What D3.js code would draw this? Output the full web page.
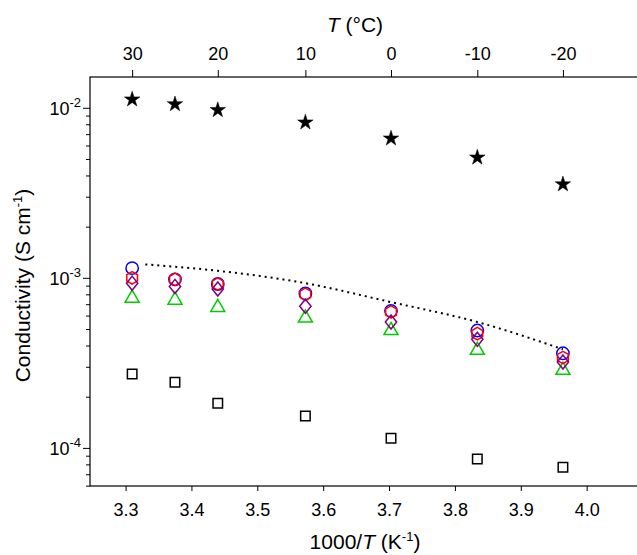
<!DOCTYPE html>
<html>
<head>
  <meta charset="UTF-8">
  <script src="https://d3js.org/d3.v7.min.js"></script>
  <style>
    body { margin: 0; background: #fff; font-family: "Liberation Sans", Arial, sans-serif; }
    .axis text { font-size: 18px; fill: #000; font-family: "Liberation Sans", Arial, sans-serif; }
    .axis path, .axis line { stroke: #000; }
  </style>
</head>
<body>
  <svg id="chart" width="637" height="555"></svg>
  <script>
    const xVals = [3.31, 3.375, 3.44, 3.573, 3.703, 3.834, 3.964];
    const topTickLabels = ["30", "", "20", "10", "0", "-10", "-20"];
    const stars = [1.12e-2, 1.05e-2, 9.7e-3, 8.2e-3, 6.6e-3, 5.1e-3, 3.55e-3];
    const circles = [1.14e-3, 0.98e-3, 0.92e-3, 0.81e-3, 0.64e-3, 0.49e-3, 0.36e-3];
    const hexagons = [1.0e-3, 0.98e-3, 0.92e-3, 0.80e-3, 0.63e-3, 0.47e-3, 0.34e-3];
    const diamonds = [0.93e-3, 0.89e-3, 0.86e-3, 0.68e-3, 0.55e-3, 0.435e-3, 0.32e-3];
    const triangles = [0.76e-3, 0.74e-3, 0.67e-3, 0.58e-3, 0.49e-3, 0.375e-3, 0.286e-3];
    const squares = [2.72e-4, 2.43e-4, 1.83e-4, 1.54e-4, 1.14e-4, 0.86e-4, 0.77e-4];
    const fitX = [3.33, 3.44, 3.573, 3.703, 3.834, 3.964];
    const fitY = [1.2e-3, 1.1e-3, 0.93e-3, 0.72e-3, 0.55e-3, 0.38e-3];

    const svg = d3.select("#chart");
    const L = 90, R = 640, T = 77, B = 486;
    const x = d3.scaleLinear().domain([3.246, 4.081]).range([L, R]);
    const y = d3.scaleLog().domain([Math.pow(10, -4.224), Math.pow(10, -1.819)]).range([B, T]);

    // frame
    svg.append("rect").attr("x", L).attr("y", T).attr("width", R - L).attr("height", B - T)
      .attr("fill", "none").attr("stroke", "#000").attr("stroke-width", 1.2);

    // bottom axis
    const gx = svg.append("g").attr("class", "axis").attr("transform", `translate(0,${B})`)
      .call(d3.axisBottom(x).tickValues(d3.range(3.3, 4.01, 0.1)).tickFormat(d3.format(".1f")).tickSize(5).tickSizeOuter(0));
    gx.select(".domain").remove();
    gx.selectAll("text").attr("dy", "1.2em");

    // top axis
    const gt = svg.append("g").attr("class", "axis").attr("transform", `translate(0,${T})`)
      .call(d3.axisTop(x).tickValues(xVals.filter((d, i) => topTickLabels[i] !== ""))
        .tickFormat(d => topTickLabels[xVals.indexOf(d)]).tickSize(7).tickSizeOuter(0));
    gt.select(".domain").remove();
    gt.selectAll("text").attr("dy", "-0.4em");

    // left axis, major and minor
    const minor = [];
    for (let e = -5; e <= -2; e++) for (let m = 2; m <= 9; m++) {
      const v = m * Math.pow(10, e);
      if (v > y.domain()[0] && v < y.domain()[1]) minor.push(v);
    }
    const gm = svg.append("g").attr("class", "axis").attr("transform", `translate(${L},0)`)
      .call(d3.axisLeft(y).tickValues(minor).tickFormat("").tickSize(4).tickSizeOuter(0));
    gm.select(".domain").remove();
    const gy = svg.append("g").attr("class", "axis").attr("transform", `translate(${L},0)`)
      .call(d3.axisLeft(y).tickValues([1e-4, 1e-3, 1e-2]).tickFormat("").tickSize(7).tickSizeOuter(0));
    gy.select(".domain").remove();
    [1e-4, 1e-3, 1e-2].forEach(v => {
      const t = svg.append("text").attr("x", L - 9).attr("y", y(v) + 7)
        .attr("text-anchor", "end").style("font-size", "18px");
      t.append("tspan").text("10");
      t.append("tspan").attr("dy", -8).style("font-size", "13px").text(Math.round(Math.log10(v)));
    });

    // titles
    const xt = svg.append("text").attr("x", 365).attr("y", 549).attr("text-anchor", "middle").style("font-size", "21px");
    xt.append("tspan").text("1000/");
    xt.append("tspan").attr("font-style", "italic").text("T");
    xt.append("tspan").text(" (K");
    xt.append("tspan").attr("dy", -8).style("font-size", "13px").text("-1");
    xt.append("tspan").attr("dy", 8).text(")");

    const tt = svg.append("text").attr("x", 355).attr("y", 32).attr("text-anchor", "middle").style("font-size", "21px");
    tt.append("tspan").attr("font-style", "italic").text("T");
    tt.append("tspan").text(" (°C)");

    const yt = svg.append("text").attr("transform", `translate(30,${(T + B) / 2 + 4}) rotate(-90)`)
      .attr("text-anchor", "middle").style("font-size", "21px");
    yt.append("tspan").text("Conductivity (S cm");
    yt.append("tspan").attr("dy", -8).style("font-size", "13px").text("-1");
    yt.append("tspan").attr("dy", 8).text(")");

    // fit line
    svg.append("path").datum(fitX.map((d, i) => [d, fitY[i]]))
      .attr("d", d3.line().x(d => x(d[0])).y(d => y(d[1])).curve(d3.curveMonotoneX))
      .attr("fill", "none").attr("stroke", "#000").attr("stroke-width", 2).attr("stroke-dasharray", "2,4");

    function series(vals, sym, size, color, fill, sw) {
      svg.append("g").selectAll("path").data(vals).enter().append("path")
        .attr("transform", (d, i) => `translate(${x(xVals[i])},${y(d)})`)
        .attr("d", d3.symbol().type(sym).size(size))
        .attr("fill", fill).attr("stroke", color).attr("stroke-width", sw);
    }
    const hexSym = { draw(ctx, size) {
      const r = Math.sqrt(size / 2.598);
      for (let k = 0; k < 6; k++) {
        const a = Math.PI / 6 + k * Math.PI / 3;
        k ? ctx.lineTo(r * Math.cos(a), r * Math.sin(a)) : ctx.moveTo(r * Math.cos(a), r * Math.sin(a));
      }
      ctx.closePath();
    } };
    const diamondSym = { draw(ctx, size) {
      const r = Math.sqrt(size / 2);
      ctx.moveTo(0, -r); ctx.lineTo(r * 0.8, 0); ctx.lineTo(0, r); ctx.lineTo(-r * 0.8, 0); ctx.closePath();
    } };

    series(squares, d3.symbolSquare, 90, "#000", "none", 1.5);
    series(triangles, d3.symbolTriangle, 85, "#00cc00", "none", 1.5);
    series(circles, d3.symbolCircle, 120, "#0000ff", "none", 1.5);
    series(hexagons, hexSym, 100, "#ff0000", "none", 1.5);
    series(diamonds, diamondSym, 100, "#800080", "none", 1.5);
    series(stars, d3.symbolStar, 75, "#000", "#000", 0.5);
  </script>
</body>
</html>
